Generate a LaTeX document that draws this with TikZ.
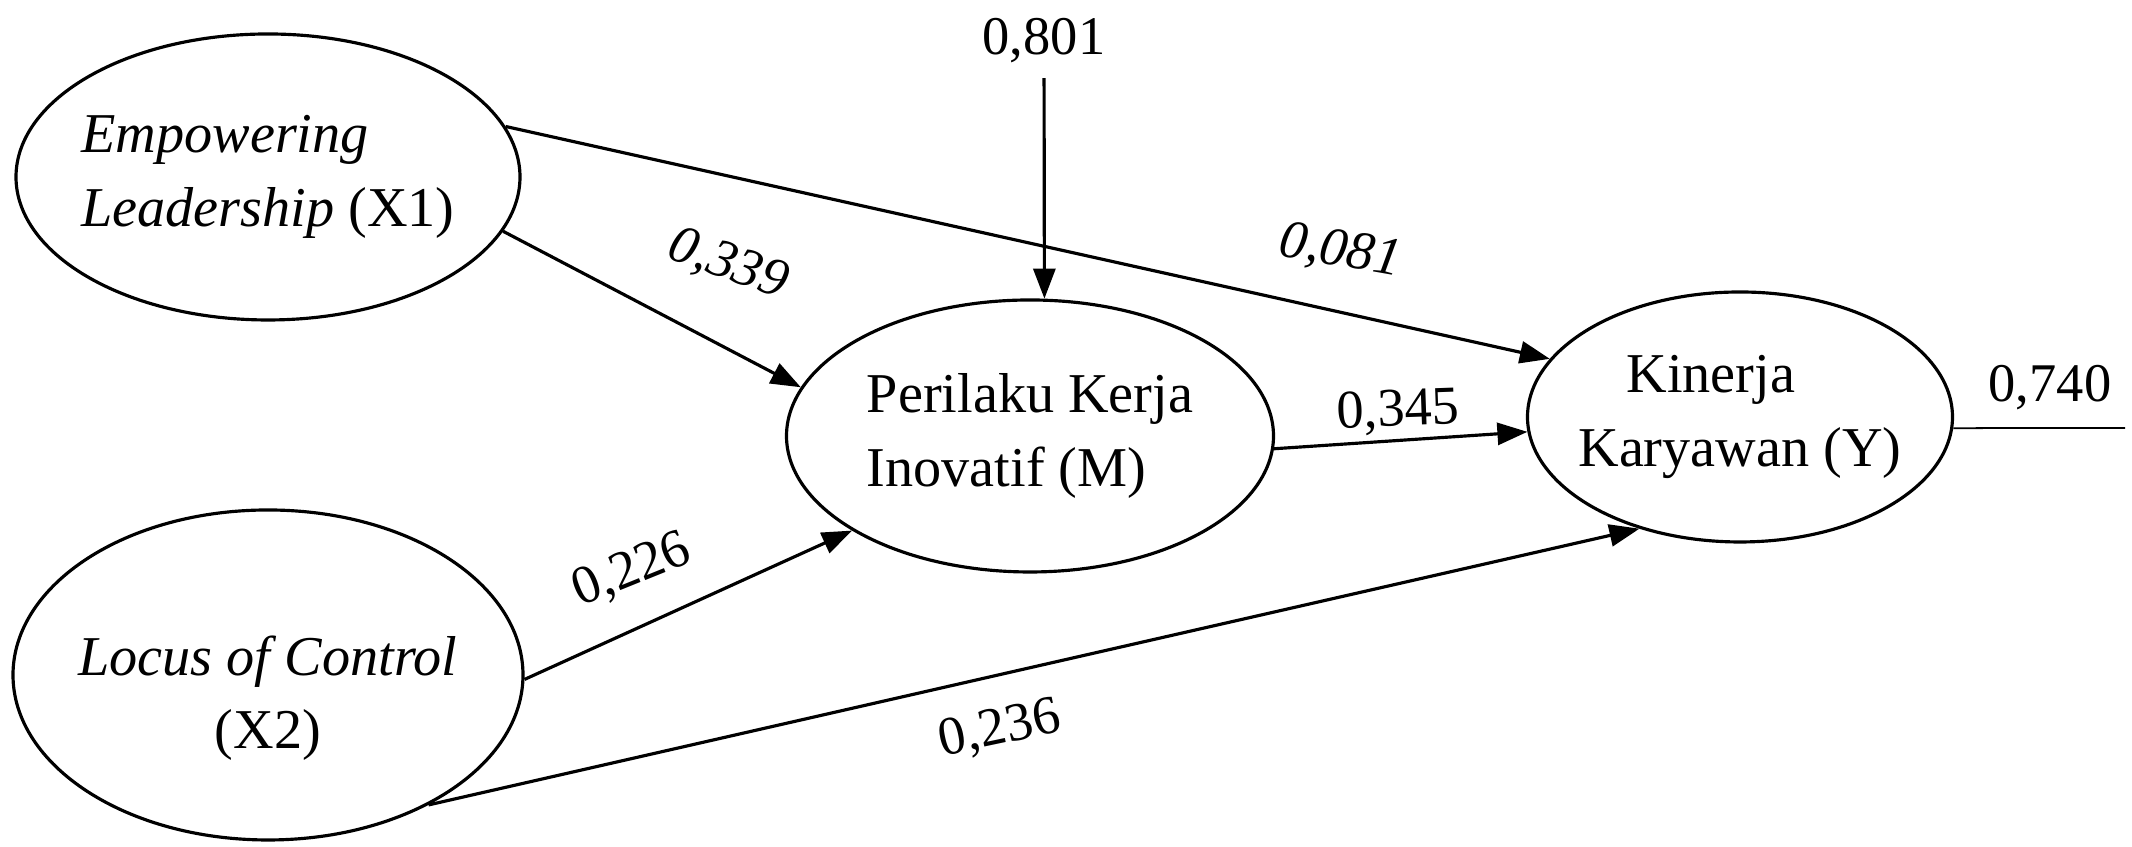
\documentclass[tikz,border=0pt]{standalone}
\usepackage{fontspec}
\setmainfont{Liberation Serif}
\usetikzlibrary{shapes.geometric,arrows.meta,positioning}
\tikzset{
  latent/.style={ellipse, draw, line width=0.9pt, inner sep=-0.4cm,
    font=\fontsize{16}{21}\selectfont},
  rel/.style={-{Triangle[length=0.3cm, width=0.22cm]}, line width=0.9pt},
  coef/.style={font=\fontsize{15.5}{18}\selectfont, inner sep=1pt},
  resid/.style={line width=0.5pt},
}
\begin{document}
\begin{tikzpicture}
\useasboundingbox (0,0) rectangle (21.32,8.47);

% ── latente Variablen ─────────────────────────────────────────────────────
\node[latent, minimum width=5.04cm, minimum height=2.86cm, align=left]
  (X1) at (2.68, 6.70) {\textit{Empowering}\\\textit{Leadership} (X1)};
\node[latent, minimum width=5.10cm, minimum height=3.30cm, align=center,
  text height=1.6cm]
  (X2) at (2.68, 1.72) {\textit{Locus of Control}\\(X2)};
\node[latent, minimum width=4.87cm, minimum height=2.72cm, align=left]
  (M) at (10.30, 4.11) {Perilaku Kerja\\Inovatif (M)};
\node[latent, minimum width=4.25cm, minimum height=2.50cm, align=left]
  (Y) at (17.40, 4.30) {\hspace*{0.48cm}Kinerja\\Karyawan (Y)};

% ── Pfade ─────────────────────────────────────────────────────────────────
\draw[rel] (X1.12) -- (Y.163);
\draw[rel] (X1.-13) -- (M.168);
\draw[rel] (M.-3) -- (Y.184);
\draw[rel] (X2.-1) -- (M.208);
\draw[rel] (X2.-39) -- (Y.228);

\node[coef, font=\fontsize{15.5}{18}\selectfont\itshape, rotate=-20]
  (l339) at (7.28, 5.82) {0,339};
\node[coef, font=\fontsize{15.5}{18}\selectfont\itshape, rotate=-10]
  (l081) at (13.40, 5.95) {0,081};
\node[coef, rotate=2] (l345) at (13.98, 4.35) {0,345};
\node[coef, rotate=22] (l226) at (6.32, 2.76) {0,226};
\node[coef, rotate=12] (l236) at (10.00, 1.17) {0,236};

% ── Residuen ──────────────────────────────────────────────────────────────
\node[coef] (l801) at (10.44, 8.06) {0,801};
\draw[rel, shorten <=3pt] (l801) -- (M.84);

\coordinate (r740) at (21.25, 4.19);
\draw[resid] (Y.-3) -- (r740);
\node[coef] (l740) at (20.50, 4.59) {0,740};

\end{tikzpicture}
\end{document}
